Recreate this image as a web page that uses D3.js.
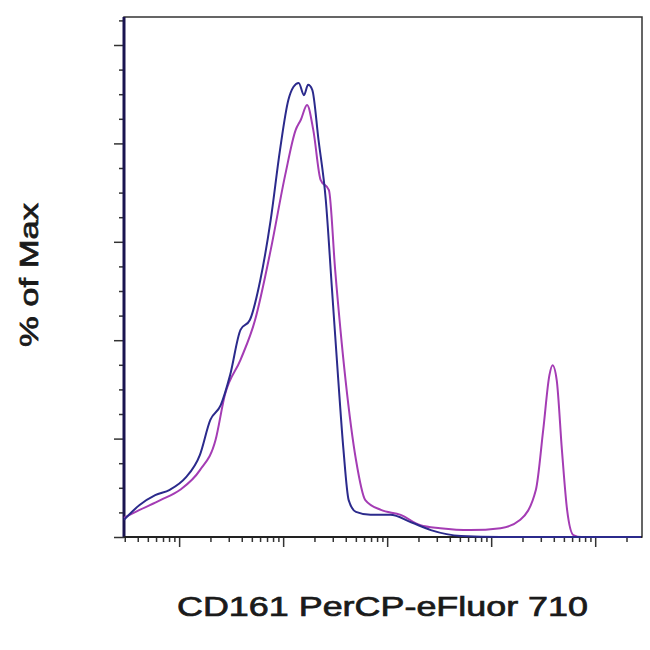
<!DOCTYPE html>
<html>
<head>
<meta charset="utf-8">
<script src="https://cdn.jsdelivr.net/npm/d3@7"></script>
<style>body{margin:0;background:#fff;}</style>
</head>
<body>
<div id="main"></div>
<script>
// x values as log10 of intensity, y as % of max
var blueX = [0.47,0.62,0.77,0.91,1.06,1.20,1.30,1.40,1.49,1.59,1.68,1.78,1.88,1.97,2.05,2.10,2.15,2.20,2.24,2.28,2.34,2.41,2.47,2.53,2.58,2.63,2.70,2.84,3.03,3.23,3.42,3.71,4.09,5.44];
var blueY = [3.5,6.5,8.5,9.6,12.0,16.7,23.8,26.8,32.9,42.1,44.1,52.2,64.4,78.7,88.8,91.5,92.3,89.8,91.9,90.9,80.7,68.5,50.2,31.9,17.7,7.5,5.1,4.5,4.5,3.0,1.4,0.2,0,0];
var pinkX = [0.47,0.62,0.82,1.01,1.20,1.35,1.44,1.59,1.73,1.88,2.02,2.12,2.17,2.23,2.29,2.36,2.44,2.50,2.60,2.70,2.79,2.94,3.13,3.32,3.51,3.80,4.09,4.28,4.43,4.50,4.56,4.59,4.63,4.68,4.73,4.79,4.87,5.44];
var pinkY = [3.9,5.5,7.5,9.6,13.6,19.7,28.9,36.0,44.1,58.3,73.6,82.7,84.8,87.8,82.7,72.6,70.5,54.3,31.9,15.7,7.5,5.5,4.5,2.4,1.8,1.4,1.8,3.5,9.6,21.7,32.9,34.9,31.9,17.7,5.5,0.4,0,0];
var yTicks = [0,20,40,60,80,100];

var w = 650, h = 650;
var mLeft = 124, mRight = 642, mTop = 17, mBottom = 537;

window.onload = function () {
  var svg = d3.select("#main").append("svg").attr("width", w).attr("height", h);

  var x = d3.scaleLog().domain([Math.pow(10,0.47), Math.pow(10,5.45)]).range([mLeft, mRight]);
  var y = d3.scaleLinear().domain([0,100]).range([mBottom, 45]);

  // frame
  svg.append("rect").attr("x", mLeft).attr("y", mTop)
      .attr("width", mRight-mLeft).attr("height", mBottom-mTop)
      .attr("fill", "none").attr("stroke", "#333").attr("stroke-width", 1.5);

  // y ticks (major + minor)
  var yMinor = d3.range(0, 106, 5).filter(function(v){ return v % 20 != 0; });
  svg.append("g").attr("transform", "translate(" + mLeft + ",0)")
    .call(d3.axisLeft(y).tickValues(yMinor).tickSize(5).tickFormat(""))
    .call(function(g){ g.select(".domain").remove(); });
  svg.append("g").attr("transform", "translate(" + mLeft + ",0)")
    .call(d3.axisLeft(y).tickValues(yTicks).tickSize(10).tickFormat(""))
    .call(function(g){ g.select(".domain").remove(); });

  // x ticks
  var xMajor = [10,100,1000,10000,100000];
  var xMinor = [];
  for (var d = 1; d <= 100000; d *= 10)
    for (var k = 2; k < 10; k++) {
      var v = d*k;
      if (v > x.domain()[0] && v < x.domain()[1]) xMinor.push(v);
    }
  svg.append("g").attr("transform", "translate(0," + mBottom + ")")
    .call(d3.axisBottom(x).tickValues(xMinor).tickSize(5).tickFormat(""))
    .call(function(g){ g.select(".domain").remove(); });
  svg.append("g").attr("transform", "translate(0," + mBottom + ")")
    .call(d3.axisBottom(x).tickValues(xMajor).tickSize(10).tickFormat(""))
    .call(function(g){ g.select(".domain").remove(); });
  svg.selectAll(".tick line").attr("stroke", "#333").attr("stroke-width", 1.5);

  // left axis line darker
  svg.append("line").attr("x1", mLeft).attr("x2", mLeft).attr("y1", mTop).attr("y2", mBottom)
    .attr("stroke", "#1a1450").attr("stroke-width", 3);
  svg.append("line").attr("x1", mLeft).attr("x2", mRight).attr("y1", mBottom).attr("y2", mBottom)
    .attr("stroke", "#222").attr("stroke-width", 2);

  var line = d3.line()
    .x(function(d){ return x(Math.pow(10, d[0])); })
    .y(function(d){ return y(d[1]); })
    .curve(d3.curveMonotoneX);

  svg.append("path").datum(d3.zip(pinkX, pinkY)).attr("d", line)
    .attr("fill", "none").attr("stroke", "#a43cb4").attr("stroke-width", 2);
  svg.append("path").datum(d3.zip(blueX, blueY)).attr("d", line)
    .attr("fill", "none").attr("stroke", "#2b2a8c").attr("stroke-width", 2);

  svg.append("text").attr("x", 177).attr("y", 616)
    .attr("font-family", "Liberation Sans, Arial").attr("font-size", 27)
    .attr("fill", "#1a1a1a").attr("stroke", "#1a1a1a").attr("stroke-width", 0.7)
    .attr("textLength", 411).attr("lengthAdjust", "spacingAndGlyphs")
    .text("CD161 PerCP-eFluor 710");
  svg.append("text").attr("transform", "translate(38,347) rotate(-90)")
    .attr("font-family", "Liberation Sans, Arial").attr("font-size", 26)
    .attr("fill", "#1a1a1a").attr("stroke", "#1a1a1a").attr("stroke-width", 0.7)
    .attr("textLength", 144).attr("lengthAdjust", "spacingAndGlyphs")
    .text("% of Max");
};
</script>
</body>
</html>
